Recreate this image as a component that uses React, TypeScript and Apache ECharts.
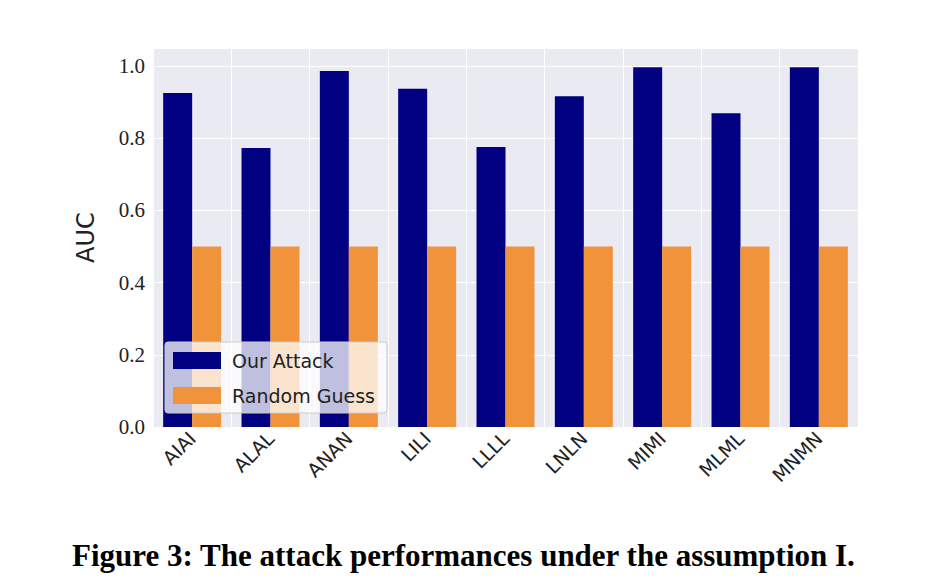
import React, { useEffect, useRef } from "react";
import * as echarts from "echarts";

const categories = ["AIAI", "ALAL", "ANAN", "LILI", "LLLL", "LNLN", "MIMI", "MLML", "MNMN"];
const ourAttack = [0.925, 0.773, 0.986, 0.937, 0.776, 0.916, 0.997, 0.869, 0.997];
const randomGuess = [0.5, 0.5, 0.5, 0.5, 0.5, 0.5, 0.5, 0.5, 0.5];

const App: React.FC = () => {
  const chartRef = useRef<HTMLDivElement | null>(null);

  useEffect(() => {
    if (!chartRef.current) return;
    const chart = echarts.init(chartRef.current, null, { renderer: "svg" });
    chart.setOption({
      animation: false,
      backgroundColor: "#fff",
      grid: { left: 145, right: 62, top: 40, bottom: 153, backgroundColor: "#EAEAF2", show: true, borderWidth: 0 },
      legend: {
        left: 157,
        top: 334,
        orient: "vertical",
        icon: "rect",
        itemWidth: 48,
        itemHeight: 17,
        itemGap: 16,
        padding: [9, 12, 8, 8],
        backgroundColor: "rgba(255,255,255,0.75)",
        borderColor: "#ccc",
        borderWidth: 1,
        borderRadius: 3,
        textStyle: { fontFamily: "DejaVu Sans", fontSize: 19, color: "#222", padding: [0, 0, 0, 6] },
        data: ["Our Attack", "Random Guess"],
      },
      xAxis: {
        type: "category",
        data: categories,
        axisLine: { show: false },
        axisTick: { show: false, alignWithLabel: true },
        splitLine: { show: true, interval: 0, lineStyle: { color: "#fff", width: 1 } },
        axisLabel: { rotate: 45, interval: 0, fontFamily: "DejaVu Sans", fontSize: 19, color: "#222", margin: 8 },
      },
      yAxis: {
        type: "value",
        min: 0,
        max: 1.05,
        interval: 0.2,
        name: "AUC",
        nameLocation: "middle",
        nameGap: 55,
        nameTextStyle: { fontFamily: "DejaVu Sans", fontSize: 24, color: "#222" },
        axisLine: { show: false },
        axisTick: { show: false },
        splitLine: { lineStyle: { color: "#fff", width: 1 } },
        axisLabel: {
          fontFamily: "Liberation Serif",
          fontSize: 21,
          color: "#222",
          formatter: (v: number) => (v > 1.01 ? "" : v.toFixed(1)),
        },
      },
      series: [
        { name: "Our Attack", type: "bar", data: ourAttack, barGap: "0%", barCategoryGap: "26%", itemStyle: { color: "#000080" } },
        { name: "Random Guess", type: "bar", data: randomGuess, itemStyle: { color: "#F0933A" } },
      ],
      graphic: [
        {
          type: "text",
          left: "center",
          top: 532,
          style: {
            text: "Figure 3: The attack performances under the assumption I.",
            font: "bold 31px 'Liberation Serif'",
            fill: "#000",
          },
        },
      ],
    });
    return () => chart.dispose();
  }, []);

  return <div ref={chartRef} style={{ width: 912, height: 572 }} />;
};

export default App;
